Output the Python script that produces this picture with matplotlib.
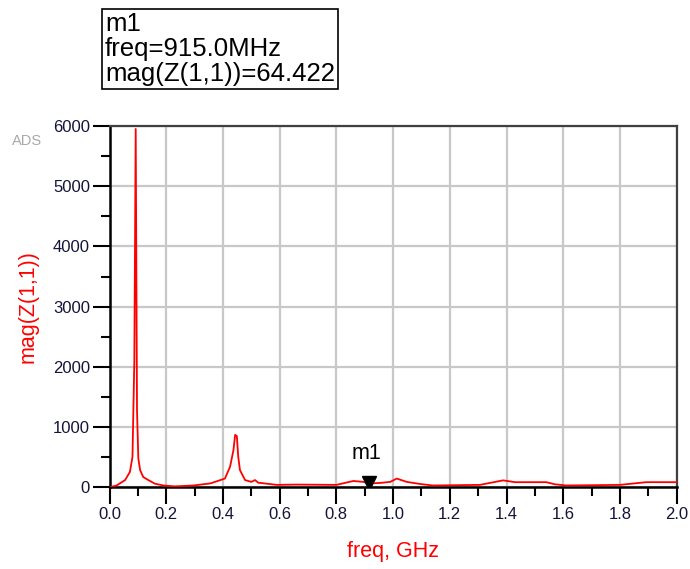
import numpy as np
import matplotlib
matplotlib.use("Agg")
from matplotlib import pyplot as plt
from matplotlib.ticker import MultipleLocator

plt.rcParams['font.family'] = ['Liberation Sans', 'DejaVu Sans']

# |Z(1,1)| sweep, GHz vs ohms
freq_ghz = [0.0, 0.025, 0.055, 0.072, 0.081, 0.0875, 0.0924, 0.097, 0.1016, 0.108,
            0.119, 0.137, 0.16, 0.19, 0.23, 0.296, 0.356, 0.372, 0.407, 0.425,
            0.437, 0.443, 0.449, 0.454, 0.46, 0.478, 0.50, 0.513, 0.525, 0.537,
            0.59, 0.66, 0.80, 0.86, 0.895, 0.915, 0.954, 0.99, 1.013, 1.048,
            1.095, 1.14, 1.306, 1.388, 1.43, 1.54, 1.57, 1.61, 1.80, 1.893, 2.0]
mag_z = [0, 30, 120, 255, 505, 2090, 5950, 1280, 480, 285,
         170, 120, 60, 30, 15, 30, 65, 90, 145, 340,
         615, 870, 850, 505, 285, 120, 90, 120, 75, 70,
         40, 45, 40, 105, 90, 64.422, 72, 90, 145, 90,
         55, 30, 40, 115, 85, 85, 50, 30, 40, 85, 85]

m1_freq = 0.915
m1_mag = 64.422

x_ticks = np.arange(0, 2.01, 0.2)
y_ticks = np.arange(0, 6001, 1000)

fig = plt.figure(figsize=(6.9, 5.69), dpi=100)
ax = fig.add_axes([0.1587, 0.1436, 0.8220, 0.6350])

ax.plot(freq_ghz, mag_z, color='#ff0000', lw=1.3, zorder=3)

ax.set_xlim(0, 2.0)
ax.set_ylim(0, 6000)
ax.set_xticks(x_ticks)
ax.set_yticks(y_ticks)
ax.xaxis.set_minor_locator(MultipleLocator(0.1))
ax.yaxis.set_minor_locator(MultipleLocator(500))
ax.set_xticklabels(['%.1f' % t for t in x_ticks])
ax.grid(True, which='major', color='#c8c8c8', lw=1.6, zorder=0)

tick_col = '#14143a'
ax.tick_params(which='major', direction='out', length=12, width=1.5,
               labelsize=12, colors='black', labelcolor=tick_col, pad=2)
ax.tick_params(which='minor', direction='out', length=6.5, width=1.5, colors='black')

for side in ['left', 'bottom']:
    ax.spines[side].set_linewidth(1.8)
    ax.spines[side].set_color('black')
for side in ['top', 'right']:
    ax.spines[side].set_linewidth(1.6)
    ax.spines[side].set_color('#404040')

ax.set_xlabel('freq, GHz', color='#ff0000', fontsize=15.5, labelpad=14)
ax.set_ylabel('mag(Z(1,1))', color='#ff0000', fontsize=15.5, labelpad=10)

# marker m1
ax.plot([m1_freq], [m1_mag], marker='v', color='black', ms=10, zorder=4,
        linestyle='none')
ax.annotate('m1', (m1_freq, m1_mag), xytext=(-2, 14), textcoords='offset points',
            ha='center', va='bottom', fontsize=15.5, color='black')

# marker readout box
fig.text(105 / 690, 1 - 86 / 569,
         'm1\nfreq=%.1fMHz\nmag(Z(1,1))=%.3f' % (m1_freq * 1000, m1_mag),
         ha='left', va='bottom', fontsize=18.5, linespacing=1.06, color='black',
         bbox=dict(boxstyle='square,pad=0.12', fc='white', ec='black', lw=1.2))

fig.text(12 / 690, 1 - 145 / 569, 'ADS', fontsize=10.5, color='#a8a8a8')

fig.savefig('out.png', dpi=100)
